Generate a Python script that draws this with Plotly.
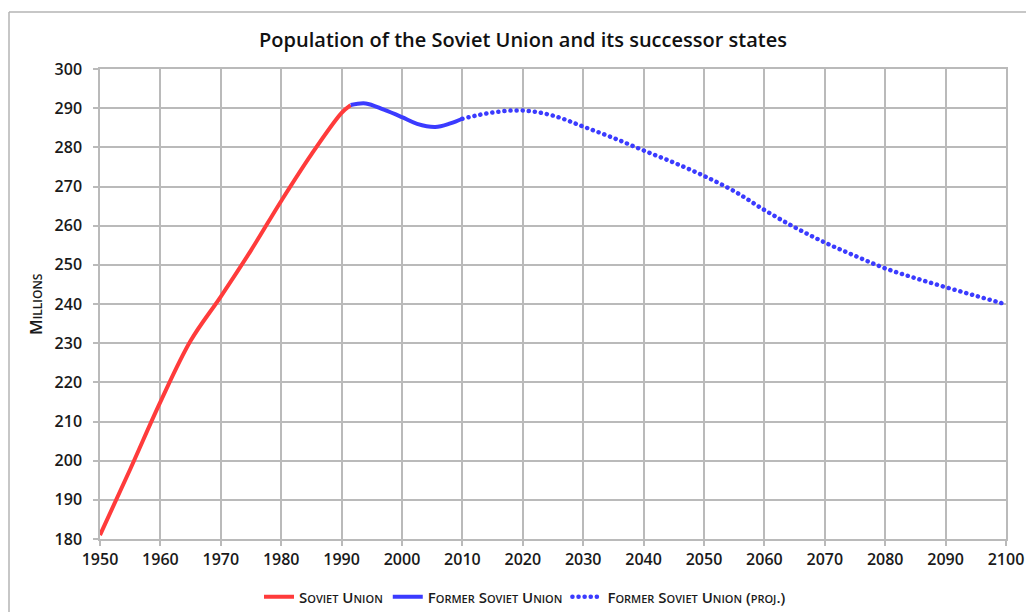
import plotly.graph_objects as go

# Data (millions)
soviet_years = [1950, 1955, 1960, 1965, 1970, 1975, 1980, 1985, 1990, 1991.5]
soviet_vals = [181, 197.8, 215, 230.6, 241.9, 253.7, 266.3, 278.2, 288.8, 290.8]

former_years = [1991.5, 1994, 1997, 2000, 2002.5, 2005.5, 2008, 2010]
former_vals = [290.8, 291.2, 289.6, 287.7, 286.0, 285.2, 286.1, 287.3]

proj_years = [2010, 2015, 2020, 2025, 2030, 2035, 2040, 2045, 2050, 2055,
              2060, 2065, 2070, 2075, 2080, 2085, 2090, 2095, 2100]
proj_vals = [287.3, 288.9, 289.4, 288.1, 285.3, 282.4, 279.2, 276.1, 272.7, 268.8,
             264.0, 259.6, 255.7, 252.3, 249.1, 246.6, 244.3, 242.1, 239.9]

x_ticks = list(range(1950, 2101, 10))
y_ticks = list(range(180, 301, 10))

TITLE = "Population of the Soviet Union and its successor states"
Y_TITLE = "Millions"
NAMES = ["Soviet Union", "Former Soviet Union", "Former Soviet Union (proj.)"]

RED = "#ff3b3b"
BLUE = "#3b3bff"
GRID = "#bababa"
FONT = "Open Sans"

# figure fills the whole page (body margin removed below)
W, H = 1026, 612
PL, PR, PT, PB = 100, 1006, 69, 539   # plot area in page coordinates
PW, PH = PR - PL, PB - PT


def px_x(page_x):
    return (page_x - PL) / PW


def px_y(page_y):
    return (PB - page_y) / PH


fig = go.Figure()
fig.add_trace(go.Scatter(x=soviet_years, y=soviet_vals, mode="lines", name=NAMES[0],
                         line=dict(color=RED, width=4, shape="spline")))
fig.add_trace(go.Scatter(x=former_years, y=former_vals, mode="lines", name=NAMES[1],
                         line=dict(color=BLUE, width=4, shape="spline")))
fig.add_trace(go.Scatter(x=proj_years, y=proj_vals, mode="lines", name=NAMES[2],
                         line=dict(color=BLUE, width=4.5, shape="spline", dash="0.1px,6px")))

axis_common = dict(
    showgrid=True, gridcolor=GRID, gridwidth=1.5,
    showline=True, linecolor=GRID, linewidth=1.5, mirror=True,
    ticks="outside", ticklen=5, tickcolor=GRID, tickwidth=1.5,
    tickfont=dict(family=FONT, size=16, color="#1a1a1a", weight=600),
    zeroline=False, fixedrange=True, automargin=False,
)

fig.update_layout(
    width=W, height=H,
    margin=dict(l=PL, r=W - PR, t=PT, b=H - PB, autoexpand=False),
    paper_bgcolor="white", plot_bgcolor="white",
    title=dict(text=TITLE, x=523 / W, xref="container", xanchor="center",
               y=1 - 40 / H, yref="container", yanchor="middle",
               font=dict(family=FONT, size=20, color="#111111", weight=600)),
    xaxis=dict(range=[1950, 2100], tickvals=x_ticks, **axis_common),
    yaxis=dict(range=[180, 300], tickvals=y_ticks, ticklabelstandoff=8, **axis_common),
    legend=dict(orientation="h", xref="container", x=525 / W, xanchor="center",
                yref="container", y=1 - 597 / H, yanchor="middle",
                font=dict(family=FONT, size=15, color="#1a1a1a", weight=600,
                          variant="small-caps"),
                itemwidth=30, bgcolor="rgba(0,0,0,0)"),
    showlegend=True,
)

# y-axis title (small caps)
fig.add_annotation(text=Y_TITLE, xref="paper", yref="paper",
                   x=px_x(35), y=0.5, textangle=-90, showarrow=False,
                   xanchor="center", yanchor="middle",
                   font=dict(family=FONT, size=17, color="#1a1a1a", weight=600,
                             variant="small-caps"))

# outer frame of the chart: only its top and left edges are inside the picture
frame = dict(color="#b5b5b5", width=1.5)
fig.add_shape(type="line", xref="paper", yref="paper",
              x0=px_x(9), x1=px_x(W), y0=px_y(12), y1=px_y(12),
              line=frame, layer="below")
fig.add_shape(type="line", xref="paper", yref="paper",
              x0=px_x(9), x1=px_x(9), y0=px_y(12), y1=px_y(H),
              line=frame, layer="below")

# remove the page's default body margin; round line caps for the dotted projection
post = """
document.documentElement.style.margin = '0';
document.documentElement.style.padding = '0';
document.body.style.margin = '0';
document.body.style.padding = '0';
document.body.style.overflow = 'hidden';
document.querySelectorAll('path.js-line').forEach(function(p){
  if ((p.style.strokeDasharray || '').length > 0) { p.style.strokeLinecap = 'round'; }
});
"""

fig.write_html("out.html", post_script=post, config={"displayModeBar": False})
